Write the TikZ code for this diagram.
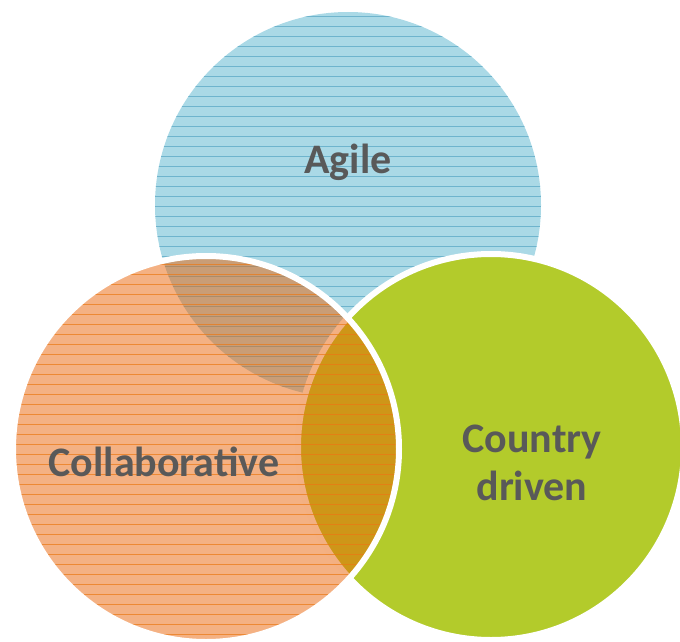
\documentclass[tikz,border=0pt]{standalone}
\usepackage{fontspec}
\setmainfont{Carlito}
\definecolor{agileblue}{RGB}{170,217,230}
\definecolor{agileline}{RGB}{110,180,205}
\definecolor{collorange}{RGB}{233,99,7}
\definecolor{collline}{RGB}{235,120,20}
\definecolor{cgreen}{RGB}{179,203,43}
\definecolor{labelgray}{RGB}{89,89,89}
\begin{document}
\begin{tikzpicture}[x=1pt,y=-1pt,
  lbl/.style={font=\bfseries\fontsize{42}{48}\selectfont, text=labelgray, align=center, inner sep=0pt},
  hatch/.style={line width=0.7pt},
  rim/.style={draw=white, line width=6pt}]
\useasboundingbox (0,0) rectangle (680,642);
% Agile circle
\fill[agileblue] (348,205) circle (193pt);
\begin{scope}
  \clip (348,205) circle (193pt);
  \foreach \y in {16.7,26.7,...,400} \draw[hatch, agileline] (150,\y) -- (545,\y);
\end{scope}
% Country driven circle
\fill[cgreen] (491,447) circle (193pt);
\draw[rim] (491,447) circle (193pt);
% Collaborative circle (semi-transparent)
\fill[collorange, fill opacity=0.5] (206,449) circle (193pt);
\begin{scope}
  \clip (206,449) circle (193pt);
  \foreach \y in {254,264,...,645} \draw[hatch, collline, draw opacity=0.7] (10,\y) -- (402,\y);
\end{scope}
\draw[rim] (206,449) circle (193pt);
% Labels
\node[lbl] (agile) at (348,162) {Agile};
\node[lbl] (collab) at (164,462) {Collaborative};
\node[lbl] (country) at (532,463) {Country\\driven};
\end{tikzpicture}
\end{document}
